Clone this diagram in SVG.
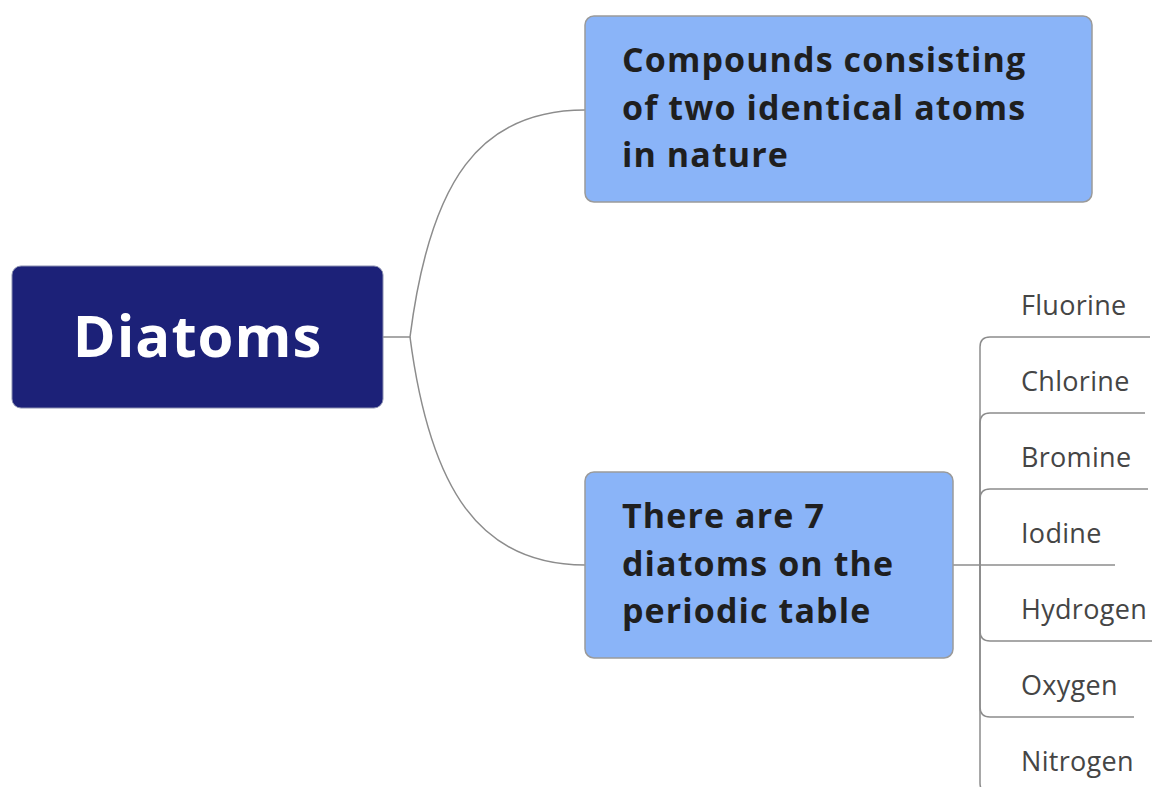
<svg xmlns="http://www.w3.org/2000/svg" width="1152" height="787" viewBox="0 0 1152 787">
<style>
.conn{fill:none;stroke:#8c8c8c;stroke-width:1.5}
.sub{fill:#8ab4f8;stroke:#9a9a9a;stroke-width:1.5}
.subt{font-family:"Open Sans","Liberation Sans",sans-serif;font-weight:700;font-size:34px;letter-spacing:1.1px;fill:#1f1f1f}
.leaf{font-family:"Open Sans","Liberation Sans",sans-serif;font-size:27px;letter-spacing:0.3px;fill:#454545}
</style>
<rect width="1152" height="787" fill="#ffffff"/>
<g id="connectors">
<path class="conn" d="M383 337 H410 C430 180 480 110 585 110"/>
<path class="conn" d="M410 337 C430 490 480 565 585 565"/>
<path class="conn" d="M953 565 H1115"/>
<path class="conn" d="M980 565 V347 Q980 337 990 337 H1150"/>
<path class="conn" d="M980 565 V423 Q980 413 990 413 H1145"/>
<path class="conn" d="M980 565 V499 Q980 489 990 489 H1148"/>
<path class="conn" d="M980 565 V631 Q980 641 990 641 H1152"/>
<path class="conn" d="M980 565 V707 Q980 717 990 717 H1134"/>
<path class="conn" d="M980 565 V783 Q980 793 990 793 H1134"/>
</g>
<g id="root">
<rect x="12" y="266" width="371" height="142" rx="9" fill="#1c2178" stroke="#8a8fb0" stroke-width="1"/>
<text x="197.5" y="357" text-anchor="middle" font-family="'Open Sans','Liberation Sans',sans-serif" font-weight="700" font-size="58" letter-spacing="1" fill="#ffffff">Diatoms</text>
</g>
<g id="node-compounds">
<rect class="sub" x="585" y="16" width="507" height="186" rx="9"/>
<text class="subt" x="622" y="72">Compounds consisting</text>
<text class="subt" x="622" y="120">of two identical atoms</text>
<text class="subt" x="622" y="167">in nature</text>
</g>
<g id="node-seven">
<rect class="sub" x="585" y="472" width="368" height="186" rx="9"/>
<text class="subt" x="622" y="528">There are 7</text>
<text class="subt" x="622" y="576">diatoms on the</text>
<text class="subt" x="622" y="623">periodic table</text>
</g>
<g id="leaf-fluorine"><text class="leaf" x="1021" y="315">Fluorine</text></g>
<g id="leaf-chlorine"><text class="leaf" x="1021" y="391">Chlorine</text></g>
<g id="leaf-bromine"><text class="leaf" x="1021" y="467">Bromine</text></g>
<g id="leaf-iodine"><text class="leaf" x="1021" y="543">Iodine</text></g>
<g id="leaf-hydrogen"><text class="leaf" x="1021" y="619">Hydrogen</text></g>
<g id="leaf-oxygen"><text class="leaf" x="1021" y="695">Oxygen</text></g>
<g id="leaf-nitrogen"><text class="leaf" x="1021" y="771">Nitrogen</text></g>
</svg>
